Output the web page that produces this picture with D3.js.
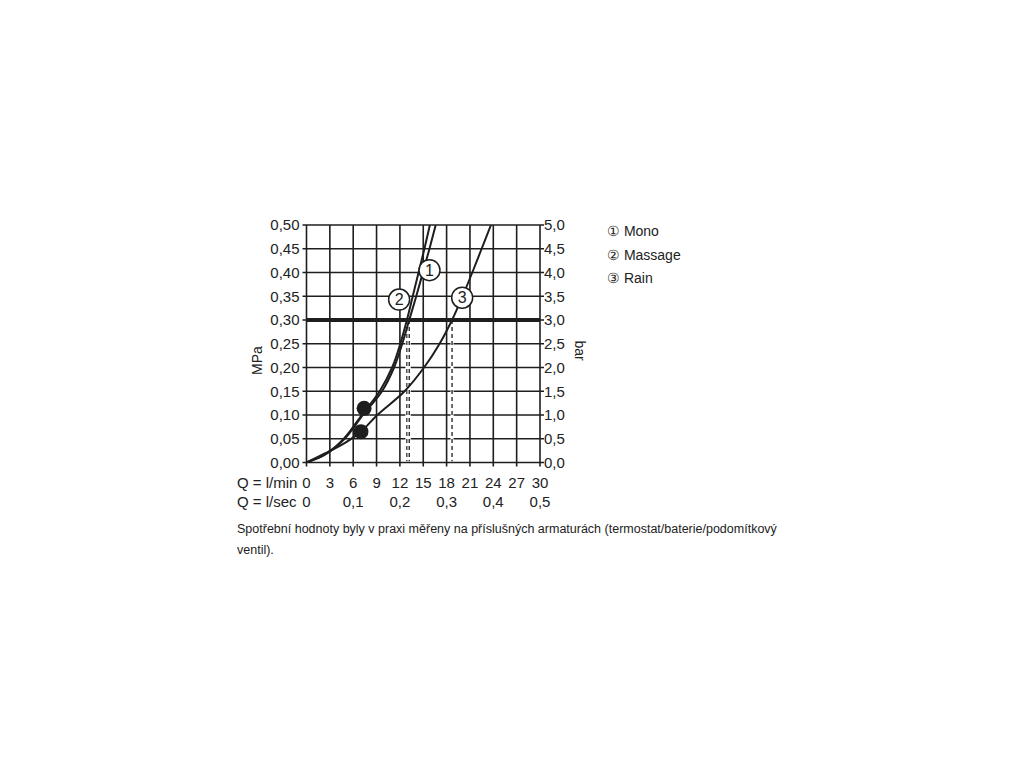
<!DOCTYPE html>
<html><head><meta charset="utf-8">
<script src="https://cdn.jsdelivr.net/npm/d3@7"></script>
<style>body{margin:0;background:#fff}svg{display:block}text{font-family:"Liberation Sans",Arial,sans-serif;fill:#222}</style>
</head><body><svg id="c" width="1024" height="768"></svg>
<script>
const qTicks = [0,3,6,9,12,15,18,21,24,27,30];
const pTicks = [0,0.05,0.10,0.15,0.20,0.25,0.30,0.35,0.40,0.45,0.50];
const mpaLabels = ["0,00","0,05","0,10","0,15","0,20","0,25","0,30","0,35","0,40","0,45","0,50"];
const barLabels = ["0,0","0,5","1,0","1,5","2,0","2,5","3,0","3,5","4,0","4,5","5,0"];
const lsecTicks = [0,6,12,18,24,30];
const lsecLabels = ["0","0,1","0,2","0,3","0,4","0,5"];
const mono = [[0,0],[2.5,0.018],[4.9,0.05],[7.25,0.10],[9.7,0.15],[11.25,0.20],[12.3,0.25],[13.2,0.30],[14.1,0.35],[14.95,0.40],[15.8,0.45],[16.6,0.50]];
const massage = [[0,0],[2.5,0.018],[4.8,0.05],[7.1,0.10],[9.4,0.15],[11.0,0.20],[12.05,0.25],[12.9,0.30],[13.65,0.35],[14.4,0.40],[15.15,0.45],[15.85,0.50]];
const rain = [[0,0],[2.5,0.02],[5,0.042],[7.0,0.065],[9.1,0.10],[12.6,0.15],[15.1,0.20],[17.1,0.25],[18.7,0.30],[20.05,0.35],[21.3,0.40],[22.5,0.45],[23.7,0.50]];
const refPressure = 0.30;
const dropQ = [12.9,13.2,18.7];
const dots = [[7.4,0.114],[7.0,0.065]];
const labels = [{n:"1",q:15.8,p:0.405},{n:"2",q:11.9,p:0.343},{n:"3",q:20.0,p:0.347}];
const legend = ["① Mono","② Massage","③ Rain"];
const note = ["Spotřební hodnoty byly v praxi měřeny na příslušných armaturách (termostat/baterie/podomítkový","ventil)."];

const svg = d3.select("#c");
const x = d3.scaleLinear().domain([0,30]).range([306.5,540]);
const y = d3.scaleLinear().domain([0,0.5]).range([462.5,225]);
const ink = "#1e1e1e";

svg.append("defs").append("clipPath").attr("id","clip").append("rect")
  .attr("x",x(0)).attr("y",y(0.5)).attr("width",x(30)-x(0)).attr("height",y(0)-y(0.5));

const g = svg.append("g");
// grid
g.selectAll(".vg").data(qTicks).join("line").attr("x1",d=>x(d)).attr("x2",d=>x(d))
  .attr("y1",y(0.5)).attr("y2",y(0)+4).attr("stroke",ink).attr("stroke-width",1.6);
g.selectAll(".hg").data(pTicks).join("line").attr("y1",d=>y(d)).attr("y2",d=>y(d))
  .attr("x1",x(0)-4).attr("x2",x(30)+4).attr("stroke",ink).attr("stroke-width",1.6);

// dashed drop lines
dropQ.forEach(q=>{
  g.append("line").attr("x1",x(q)).attr("x2",x(q)).attr("y1",y(refPressure)).attr("y2",y(0)-1)
    .attr("stroke","#fff").attr("stroke-width",3);
  g.append("line").attr("x1",x(q)).attr("x2",x(q)).attr("y1",y(refPressure)).attr("y2",y(0)-1)
    .attr("stroke",ink).attr("stroke-width",1.3).attr("stroke-dasharray","4,3");
});

// thick reference line
g.append("line").attr("x1",x(0)).attr("x2",x(30)).attr("y1",y(refPressure)).attr("y2",y(refPressure))
  .attr("stroke",ink).attr("stroke-width",4);

// curves
const line = d3.line().x(d=>x(d[0])).y(d=>y(d[1])).curve(d3.curveCatmullRom.alpha(0.5));
[mono,massage,rain].forEach(s=>{
  g.append("path").datum(s).attr("d",line).attr("fill","none").attr("stroke",ink)
   .attr("stroke-width",2).attr("clip-path","url(#clip)");
});

// dots
g.selectAll(".dot").data(dots).join("circle").attr("cx",d=>x(d[0])).attr("cy",d=>y(d[1]))
  .attr("r",7.5).attr("fill",ink);

// curve labels
labels.forEach(l=>{
  g.append("circle").attr("cx",x(l.q)).attr("cy",y(l.p)).attr("r",10.5)
    .attr("fill","#fff").attr("stroke",ink).attr("stroke-width",1.5);
  g.append("text").attr("x",x(l.q)).attr("y",y(l.p)).attr("dy","0.36em").attr("text-anchor","middle")
    .attr("font-size",16).text(l.n);
});

// y tick labels
g.selectAll(".yl").data(pTicks).join("text").attr("x",x(0)-7).attr("y",d=>y(d)).attr("dy","0.36em")
  .attr("text-anchor","end").attr("font-size",15).text((d,i)=>mpaLabels[i]);
g.selectAll(".yr").data(pTicks).join("text").attr("x",x(30)+4).attr("y",d=>y(d)).attr("dy","0.36em")
  .attr("text-anchor","start").attr("font-size",15).text((d,i)=>barLabels[i]);

g.append("text").attr("transform",`translate(262,${(y(0.25)+y(0.2))/2+5}) rotate(-90)`)
  .attr("text-anchor","middle").attr("font-size",14).text("MPa");
g.append("text").attr("transform",`translate(575,${(y(0.25)+y(0.2))/2-5}) rotate(90)`)
  .attr("text-anchor","middle").attr("font-size",14).text("bar");

// x labels
g.append("text").attr("x",237).attr("y",488).attr("font-size",15).text("Q = l/min");
g.selectAll(".xl").data(qTicks).join("text").attr("x",d=>x(d)).attr("y",488)
  .attr("text-anchor","middle").attr("font-size",15).text(d=>d);
g.append("text").attr("x",237).attr("y",507).attr("font-size",15).text("Q = l/sec");
g.selectAll(".xs").data(lsecTicks).join("text").attr("x",d=>x(d)).attr("y",507)
  .attr("text-anchor","middle").attr("font-size",15).text((d,i)=>lsecLabels[i]);

// legend
g.selectAll(".lg").data(legend).join("text").attr("x",607).attr("y",(d,i)=>236+i*23.5)
  .attr("font-size",14).text(d=>d);

// note
g.selectAll(".nt").data(note).join("text").attr("x",237).attr("y",(d,i)=>533+i*21)
  .attr("font-size",12.5).text(d=>d);
</script></body></html>
